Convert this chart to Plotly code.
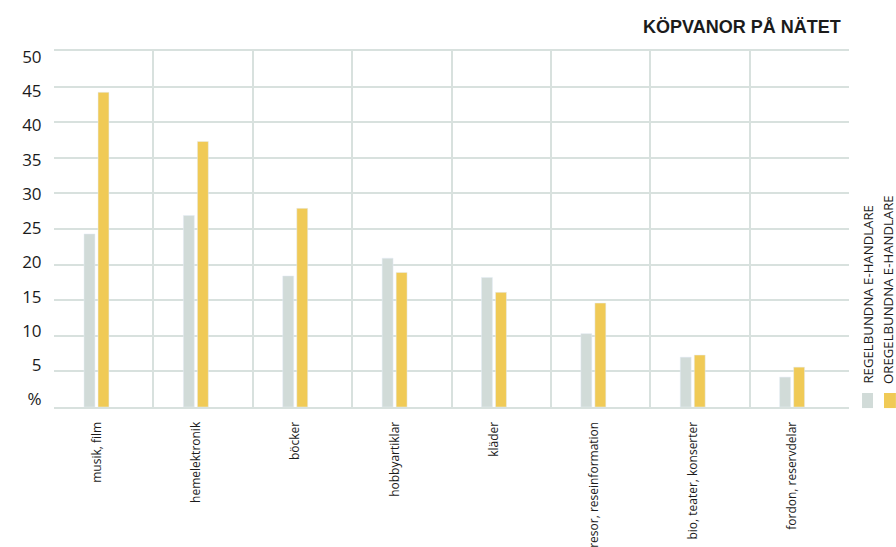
import plotly.graph_objects as go

categories = ["musik, film", "hemelektronik", "böcker", "hobbyartiklar", "kläder",
              "resor, reseinformation", "bio, teater, konserter", "fordon, reservdelar"]
regular = [24.3, 26.9, 18.4, 20.9, 18.2, 10.3, 7.0, 4.2]
irregular = [44.2, 37.3, 27.9, 18.9, 16.1, 14.6, 7.3, 5.6]
series_names = ["REGELBUNDNA E-HANDLARE", "OREGELBUNDNA E-HANDLARE"]
y_ticks = [0, 5, 10, 15, 20, 25, 30, 35, 40, 45, 50]
y_ticktext = ["%"] + [str(v) for v in y_ticks[1:]]
title = "KÖPVANOR PÅ NÄTET"

GRAY = "#d1dbd8"
YELLOW = "#f0ca56"
GRID = "#d8e1de"
TXT = "#1b1b1b"

pos = list(range(len(categories)))
bw = 0.11

fig = go.Figure()
fig.add_trace(go.Bar(x=pos, y=regular, name=series_names[0], marker_color=GRAY,
                     width=bw, offset=-0.198, showlegend=False))
fig.add_trace(go.Bar(x=pos, y=irregular, name=series_names[1], marker_color=YELLOW,
                     width=bw, offset=-0.057, showlegend=False))
# invisible trace to carry the label axes
fig.add_trace(go.Scatter(x=pos, y=regular, xaxis="x2", yaxis="y2", mode="markers",
                         marker=dict(opacity=0), hoverinfo="skip", showlegend=False))

n = len(categories)
fig.update_layout(
    width=896, height=547,
    margin=dict(l=54, r=47, t=51, b=140, autoexpand=False),
    paper_bgcolor="white", plot_bgcolor="white",
    barmode="overlay",
    font=dict(family="Open Sans", color=TXT),
    xaxis=dict(range=[-0.5, n - 0.5], tickvals=[i - 0.5 for i in range(n + 1)],
               showticklabels=False, showgrid=True, gridcolor=GRID, gridwidth=1.5,
               zeroline=False, showline=True, linecolor=GRID, linewidth=1.5, mirror=True,
               ticks=""),
    yaxis=dict(range=[0, 50], tickvals=y_ticks, showticklabels=False,
               showgrid=True, gridcolor=GRID, gridwidth=1.5, zeroline=False,
               showline=False, ticks=""),
    xaxis2=dict(overlaying="x", range=[-0.5, n - 0.5], anchor="y",
                tickvals=[p - 0.07 for p in pos], ticktext=categories,
                tickangle=-90, tickfont=dict(size=12, family="Open Sans", color=TXT),
                showgrid=False, zeroline=False, showline=False,
                ticks="outside", ticklen=9, tickcolor="rgba(0,0,0,0)", side="bottom"),
    yaxis2=dict(overlaying="y", range=[-1.124, 50.85], anchor="x",
                tickvals=y_ticks, ticktext=y_ticktext,
                tickfont=dict(size=17, family="Open Sans", color=TXT),
                showgrid=False, zeroline=False, showline=False,
                ticks="outside", ticklen=8, tickcolor="rgba(0,0,0,0)", side="left"),
)

fig.add_annotation(text="<b>" + title + "</b>", xref="paper", yref="paper",
                   x=0.9925, y=1.067, xanchor="right", yanchor="middle", showarrow=False,
                   font=dict(family="Liberation Sans", size=18, color=TXT))

leg_x = [1.0233, 1.0497]
sw_x = [(1.0164, 1.0302), (1.0440, 1.0590)]
for name, col, lx, (x0, x1) in zip(series_names, [GRAY, YELLOW], leg_x, sw_x):
    fig.add_annotation(text=name, xref="paper", yref="paper", x=lx, y=0.059,
                       xanchor="center", yanchor="bottom", textangle=-90, showarrow=False,
                       font=dict(family="Open Sans", size=13.2, color=TXT))
    fig.add_shape(type="rect", xref="paper", yref="paper", x0=x0, x1=x1,
                  y0=-0.003, y1=0.0393, fillcolor=col, line=dict(width=0))

fig.write_html("out.html")
